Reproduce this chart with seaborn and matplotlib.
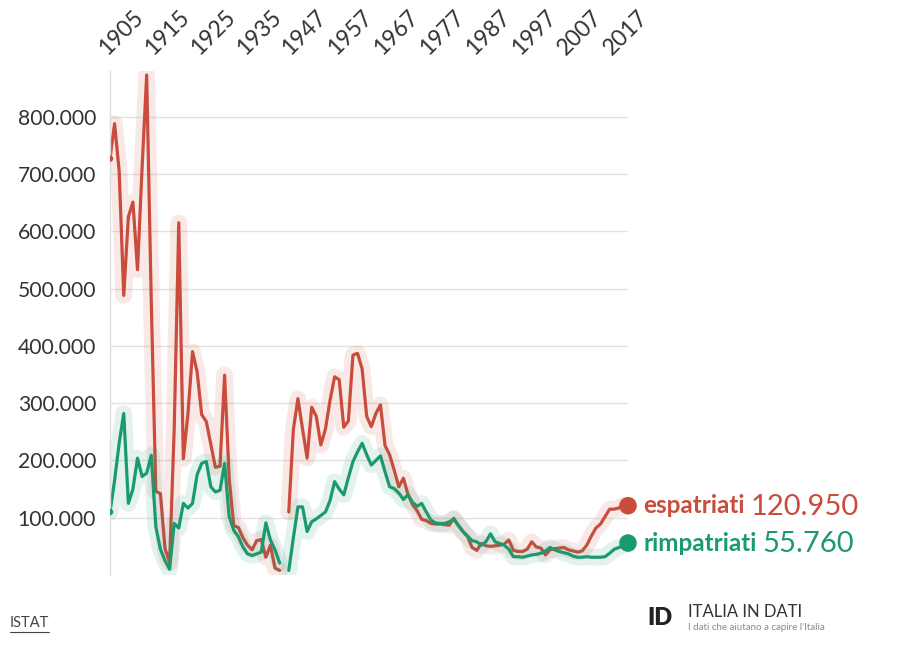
import numpy as np
import pandas as pd
import matplotlib
matplotlib.use("Agg")
import matplotlib.pyplot as plt
from matplotlib.lines import Line2D
import seaborn as sns

# categorie (anni) - gli anni di guerra mancano, un solo buco
years = list(range(1905, 1943)) + [1945] + list(range(1946, 2021))
tick_years = [1905, 1915, 1925, 1935, 1947, 1957, 1967, 1977, 1987, 1997, 2007, 2017]

# valori in migliaia
espatriati = [
    727, 788, 705, 488, 625, 651, 533, 711, 873, 479,      # 1905-1914
    146, 142, 46, 22, 253, 615, 203, 281, 390, 355,        # 1915-1924
    280, 268, 228, 188, 190, 349, 168, 86, 83, 65,         # 1925-1934
    52, 44, 60, 62, 31, 52, 12, 8,                         # 1935-1942
    np.nan,                                                # 1943-45
    110, 254, 308, 255,                                    # 1946-1949
    204, 293, 277, 227, 255, 305, 346, 341, 258, 269,      # 1950-1959
    384, 387, 360, 277, 259, 282, 297, 226, 210, 183,      # 1960-1969
    154, 169, 141, 123, 112, 97, 95, 90, 89, 89,           # 1970-1979
    88, 87, 99, 86, 76, 67, 48, 43, 55, 51,                # 1980-1989
    50, 51, 52, 54, 61, 43, 41, 41, 45, 58,                # 1990-1999
    49, 47, 35, 44, 46, 47, 48, 44, 42, 40,                # 2000-2009
    42, 52, 68, 82, 89, 102, 115, 115, 117, 122,           # 2010-2019
    120.95,                                                # 2020
]
rimpatriati = [
    110, 165, 230, 282, 125, 150, 204, 172, 178, 209,      # 1905-1914
    84, 45, 25, 10, 90, 82, 125, 117, 125, 175,            # 1915-1924
    195, 198, 154, 145, 148, 195, 102, 78, 67, 49,         # 1925-1934
    37, 34, 37, 40, 91, 61, 44, 21,                        # 1935-1942
    np.nan,                                                # 1943-45
    8, 65, 119, 119,                                       # 1946-1949
    76, 93, 98, 104, 110, 130, 163, 150, 140, 170,         # 1950-1959
    198, 215, 230, 210, 192, 200, 208, 180, 154, 151,      # 1960-1969
    143, 132, 140, 127, 120, 125, 110, 96, 91, 90,         # 1970-1979
    90, 93, 97, 87, 76, 68, 60, 58, 52, 58,                # 1980-1989
    72, 58, 55, 52, 45, 32, 32, 31, 33, 35,                # 1990-1999
    36, 38, 42, 48, 44, 41, 39, 37, 33, 31,                # 2000-2009
    31, 32, 31, 31, 31, 32, 38, 45, 48, 52,                # 2010-2019
    55.76,                                                 # 2020
]

RED = "#c94c3c"
GREEN = "#1b9a6f"

df = pd.DataFrame({"anno": years,
                   "espatriati": np.array(espatriati) * 1000,
                   "rimpatriati": np.array(rimpatriati) * 1000})
df["pos"] = np.arange(len(df))
df["tratto"] = df["espatriati"].isna().cumsum()
long = df.melt(id_vars=["anno", "pos", "tratto"], var_name="serie",
               value_name="valore").dropna()

sns.set_theme(style="white")
plt.rcParams["font.family"] = ["Lato", "DejaVu Sans"]

fig = plt.figure(figsize=(9.09, 6.59), dpi=100)
ax = fig.add_axes([110 / 909, 84 / 659, 518 / 909, 504 / 659])

for serie, col in [("espatriati", RED), ("rimpatriati", GREEN)]:
    sub = long[long["serie"] == serie]
    # alone chiaro sotto la linea
    sns.lineplot(data=sub, x="pos", y="valore", units="tratto", estimator=None,
                 color=col, lw=12, alpha=0.12, ax=ax, solid_capstyle="round",
                 solid_joinstyle="round")
    sns.lineplot(data=sub, x="pos", y="valore", units="tratto", estimator=None,
                 color=col, lw=2.3, ax=ax, solid_joinstyle="round")

# punti iniziali e finali
first = long.sort_values("pos").groupby("serie").first().reset_index()
last = long.sort_values("pos").groupby("serie").last().reset_index()
sns.scatterplot(data=first, x="pos", y="valore", hue="serie",
                palette={"espatriati": RED, "rimpatriati": GREEN},
                s=22, linewidth=0, legend=False, ax=ax, zorder=5)
sns.scatterplot(data=last, x="pos", y="valore", hue="serie",
                palette={"espatriati": RED, "rimpatriati": GREEN},
                s=160, linewidth=0, legend=False, ax=ax, zorder=5, clip_on=False)

for _, r in last.iterrows():
    col = RED if r["serie"] == "espatriati" else GREEN
    lab = ax.annotate(r["serie"], xy=(r["pos"], r["valore"]), xytext=(11, 0),
                      textcoords="offset points", va="center", ha="left",
                      fontsize=17.5, fontweight="bold", color=col,
                      annotation_clip=False)
    ax.annotate(f"{r['valore']:,.0f}".replace(",", "."), xy=(1, 0.5),
                xycoords=lab, xytext=(4, -1), textcoords="offset points",
                va="center", ha="left", fontsize=21, color=col,
                annotation_clip=False)

ax.set_xlim(0, len(df) - 1)
ax.set_ylim(0, 880000)
ax.set_xlabel("")
ax.set_ylabel("")

ax.set_yticks(range(100000, 900000, 100000))
ax.set_yticklabels([f"{v:,.0f}".replace(",", ".") for v in range(100000, 900000, 100000)])
ax.yaxis.grid(True, color="#e2e2e2", lw=1)
ax.xaxis.grid(False)
ax.tick_params(axis="y", length=0, pad=10, labelsize=15.2, labelcolor="#333333")

ax.xaxis.tick_top()
tick_pos = [years.index(y) for y in tick_years]
ax.set_xticks(tick_pos)
ax.set_xticklabels([str(y) for y in tick_years])
ax.tick_params(axis="x", length=0, pad=9, labelsize=16.5, labelcolor="#333333")
for t in ax.get_xticklabels():
    t.set_rotation(45)
    t.set_ha("left")
    t.set_va("bottom")
    t.set_rotation_mode("anchor")

for s in ["top", "right", "bottom"]:
    ax.spines[s].set_visible(False)
ax.spines["left"].set_color("#dddddd")
ax.spines["left"].set_linewidth(1)

# fonte e logo
src = fig.text(10 / 909, 1 - 627 / 659, "ISTAT", fontsize=10.5, color="#444444",
               ha="left", va="baseline")
fig.canvas.draw()
bb = src.get_window_extent()
fig.add_artist(Line2D([bb.x0 / 909, bb.x1 / 909], [(bb.y0 - 2) / 659] * 2,
                      color="#444444", lw=0.8, transform=fig.transFigure))

fig.text(647 / 909, 1 - 618 / 659, "ID", fontsize=17, fontweight="heavy",
         color="#222222", ha="left", va="center")
fig.text(688 / 909, 1 - 612 / 659, "ITALIA IN DATI", fontsize=12, color="#333333",
         ha="left", va="center")
fig.text(688 / 909, 1 - 628 / 659, "I dati che aiutano a capire l'Italia",
         fontsize=7, color="#8a8a8a", ha="left", va="center")

fig.savefig("out.png", dpi=100)
